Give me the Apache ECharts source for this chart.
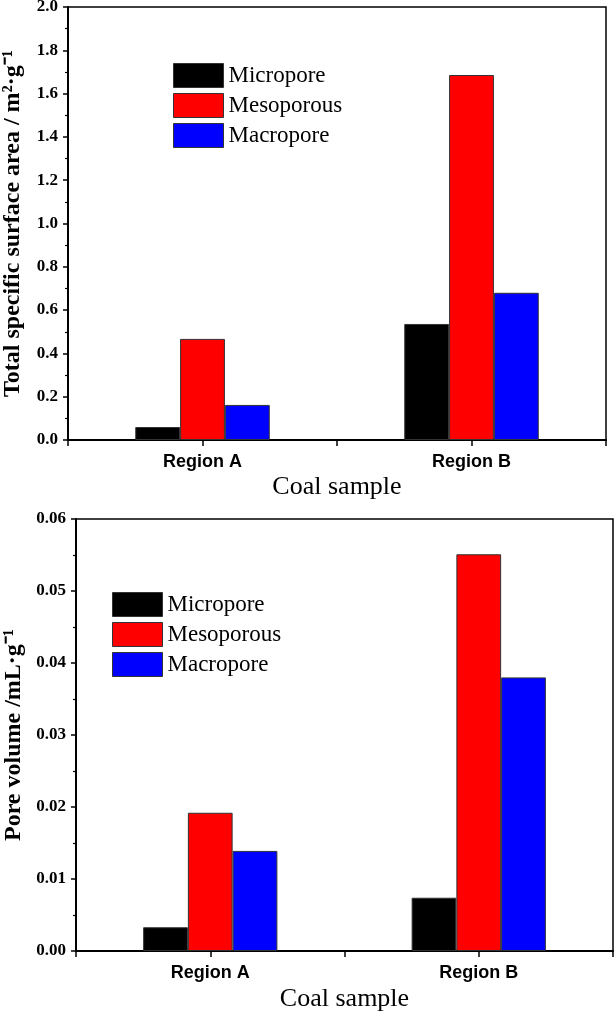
<!DOCTYPE html>
<html>
<head>
<meta charset="utf-8">
<script src="https://cdn.jsdelivr.net/npm/echarts@6/dist/echarts.min.js"></script>
<style>
  html, body { margin: 0; padding: 0; background: #fff; }
  #main { width: 615px; height: 1012px; }
</style>
</head>
<body>
<div id="main"></div>
<script>
var chartDom = document.getElementById('main');
var myChart = echarts.init(chartDom);

// categories and series
const categories = ['Region A', 'Region B'];
const poreNames = ['Micropore', 'Mesoporous', 'Macropore'];
const poreColors = ['#000000', '#ff0000', '#0000ff'];

// total specific surface area, m2/g
const microArea = [0.06, 0.536];
const mesoArea = [0.467, 1.686];
const macroArea = [0.162, 0.68];

// pore volume, mL/g
const microVolume = [0.0033, 0.0074];
const mesoVolume = [0.0192, 0.0551];
const macroVolume = [0.0139, 0.038];

const areaData = [microArea, mesoArea, macroArea];
const volumeData = [microVolume, mesoVolume, macroVolume];

const serif = '"Liberation Serif", "Times New Roman", serif';
const sans = '"Liberation Sans", Arial, sans-serif';

function catAxis(gridIndex, gap) {
  return {
    type: 'category',
    gridIndex: gridIndex,
    position: 'bottom',
    data: categories,
    axisLine: { lineStyle: { color: '#000', width: 2 } },
    axisTick: { show: false },
    axisLabel: { margin: 13, fontFamily: sans, fontWeight: 'bold', fontSize: 18, color: '#000' },
    name: 'Coal sample',
    nameLocation: 'middle',
    nameGap: gap,
    nameTextStyle: { fontFamily: serif, fontSize: 26, color: '#000' }
  };
}

// helper axis that only draws the half-category ticks like the original plot
function tickAxis(gridIndex) {
  return {
    type: 'value',
    gridIndex: gridIndex,
    position: 'bottom',
    min: 0,
    max: 4,
    interval: 1,
    axisLine: { show: false },
    axisTick: { show: true, length: 6, lineStyle: { color: '#000', width: 1.5 } },
    axisLabel: { show: false },
    splitLine: { show: false }
  };
}

function valAxis(gridIndex, max, interval, digits, name, gap) {
  return {
    type: 'value',
    gridIndex: gridIndex,
    min: 0,
    max: max,
    interval: interval,
    axisLine: { show: true, lineStyle: { color: '#000', width: 2 } },
    axisTick: { show: true, length: 5, lineStyle: { color: '#000', width: 1.5 } },
    minorTick: { show: true, splitNumber: 2, length: 3, lineStyle: { color: '#000', width: 1.2 } },
    splitLine: { show: false },
    axisLabel: {
      margin: 10,
      fontFamily: serif,
      fontWeight: 'bold',
      fontSize: 17,
      color: '#000',
      formatter: (v) => v.toFixed(digits)
    },
    name: name,
    nameLocation: 'middle',
    nameGap: gap,
    nameTextStyle: { fontFamily: serif, fontWeight: 'bold', fontSize: 24, color: '#000' }
  };
}

function legendAt(left, top) {
  return {
    orient: 'vertical',
    left: left,
    top: top,
    padding: 0,
    itemWidth: 50,
    itemHeight: 24,
    itemGap: 5,
    icon: 'rect',
    data: poreNames,
    selectedMode: false,
    itemStyle: { borderColor: '#333', borderWidth: 1 },
    textStyle: { fontFamily: serif, fontSize: 23, color: '#000' }
  };
}

const series = [];
[areaData, volumeData].forEach((group, gi) => {
  group.forEach((vals, si) => {
    series.push({
      name: poreNames[si],
      type: 'bar',
      xAxisIndex: gi * 2,
      yAxisIndex: gi,
      barGap: '0%',
      barCategoryGap: '50%',
      itemStyle: { color: poreColors[si], borderColor: '#333', borderWidth: 1 },
      data: vals
    });
  });
});

var option = {
  animation: false,
  backgroundColor: '#fff',
  grid: [
    { left: 68, right: 9, top: 7, height: 433, outerBoundsMode: 'none', show: true, borderColor: '#000', borderWidth: 1.5 },
    { left: 76, right: 2, top: 519, height: 432, outerBoundsMode: 'none', show: true, borderColor: '#000', borderWidth: 1.5 }
  ],
  legend: [legendAt(173, 63), legendAt(112, 592)],
  xAxis: [catAxis(0, 34), tickAxis(0), catAxis(1, 35), tickAxis(1)],
  yAxis: [
    valAxis(0, 2.0, 0.2, 1, 'Total specific surface area / m\u00b2\u00b7g\u207b\u00b9', 43),
    valAxis(1, 0.06, 0.01, 2, 'Pore volume /mL\u00b7g\u207b\u00b9', 47)
  ],
  series: series
};

option && myChart.setOption(option);
</script>
</body>
</html>
